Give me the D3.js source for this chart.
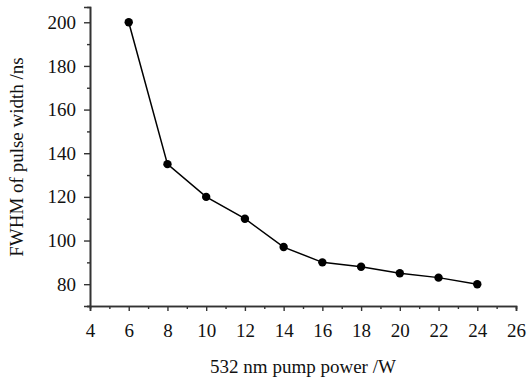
<!DOCTYPE html>
<html><head><meta charset="utf-8">
<script src="https://cdn.jsdelivr.net/npm/d3@7/dist/d3.min.js"></script>
</head><body style="margin:0;background:#fff"><svg id="c" width="530" height="378" font-family="'Liberation Serif', 'Times New Roman', serif"><text x="303" y="373" text-anchor="middle" style="font-family:'Liberation Serif';font-size:19px" fill="#111">532 nm pump power /W</text></svg>
<script>
const xValues=[6,8,10,12,14,16,18,20,22,24];
const yValues=[200,135,120,110,97,90,88,85,83,80];
const xTicks=[4,6,8,10,12,14,16,18,20,22,24,26];
const yTicks=[80,100,120,140,160,180,200];
const yLabel="FWHM of pulse width /ns";

const FONT="'Liberation Serif', 'Times New Roman', serif";
const svg=d3.select("#c");
const x=d3.scaleLinear().domain([4,26]).range([90,516]);
const y=d3.scaleLinear().domain([70,207]).range([306,7]);
const axisColor="#333";

const gx=svg.append("g").attr("transform","translate(0,306)");
gx.call(d3.axisBottom(x).tickValues(d3.range(5,26,2)).tickSize(3).tickFormat(""));
gx.append("g").call(d3.axisBottom(x).tickValues(xTicks).tickSize(5).tickPadding(13).tickFormat(d3.format("d")));
gx.selectAll("g").attr("font-family",null).attr("font-size",null);
gx.attr("font-family",null).attr("font-size",null);
gx.selectAll(".domain").attr("stroke",axisColor).attr("stroke-width",1.6);
gx.selectAll(".tick line").attr("stroke",axisColor).attr("stroke-width",1.4);
gx.selectAll(".tick text").attr("font-family",FONT).attr("font-size",19).attr("fill","#111");

const gy=svg.append("g").attr("transform","translate(90,0)");
gy.call(d3.axisLeft(y).tickValues(d3.range(70,207,10).filter(v=>!yTicks.includes(v))).tickSize(3).tickFormat(""));
gy.append("g").call(d3.axisLeft(y).tickValues(yTicks).tickSize(6).tickPadding(8).tickFormat(d3.format("d")));
gy.selectAll("g").attr("font-family",null).attr("font-size",null);
gy.attr("font-family",null).attr("font-size",null);
gy.selectAll(".domain").attr("stroke",axisColor).attr("stroke-width",1.6);
gy.selectAll(".tick line").attr("stroke",axisColor).attr("stroke-width",1.4);
gy.selectAll(".tick text").attr("font-family",FONT).attr("font-size",19).attr("fill","#111");

const pts=xValues.map((v,i)=>[v,yValues[i]]);
svg.append("path").datum(pts).attr("fill","none").attr("stroke","#000").attr("stroke-width",1.5)
 .attr("d",d3.line().x(d=>x(d[0])).y(d=>y(d[1])));
svg.selectAll("circle.p").data(pts).enter().append("circle")
 .attr("cx",d=>x(d[0])).attr("cy",d=>y(d[1])).attr("r",4.2).attr("fill","#000");

svg.append("text").attr("transform","translate(23,157) rotate(-90)").attr("text-anchor","middle").attr("font-family",FONT).attr("font-size",19).attr("fill","#111").text(yLabel);
</script></body></html>
